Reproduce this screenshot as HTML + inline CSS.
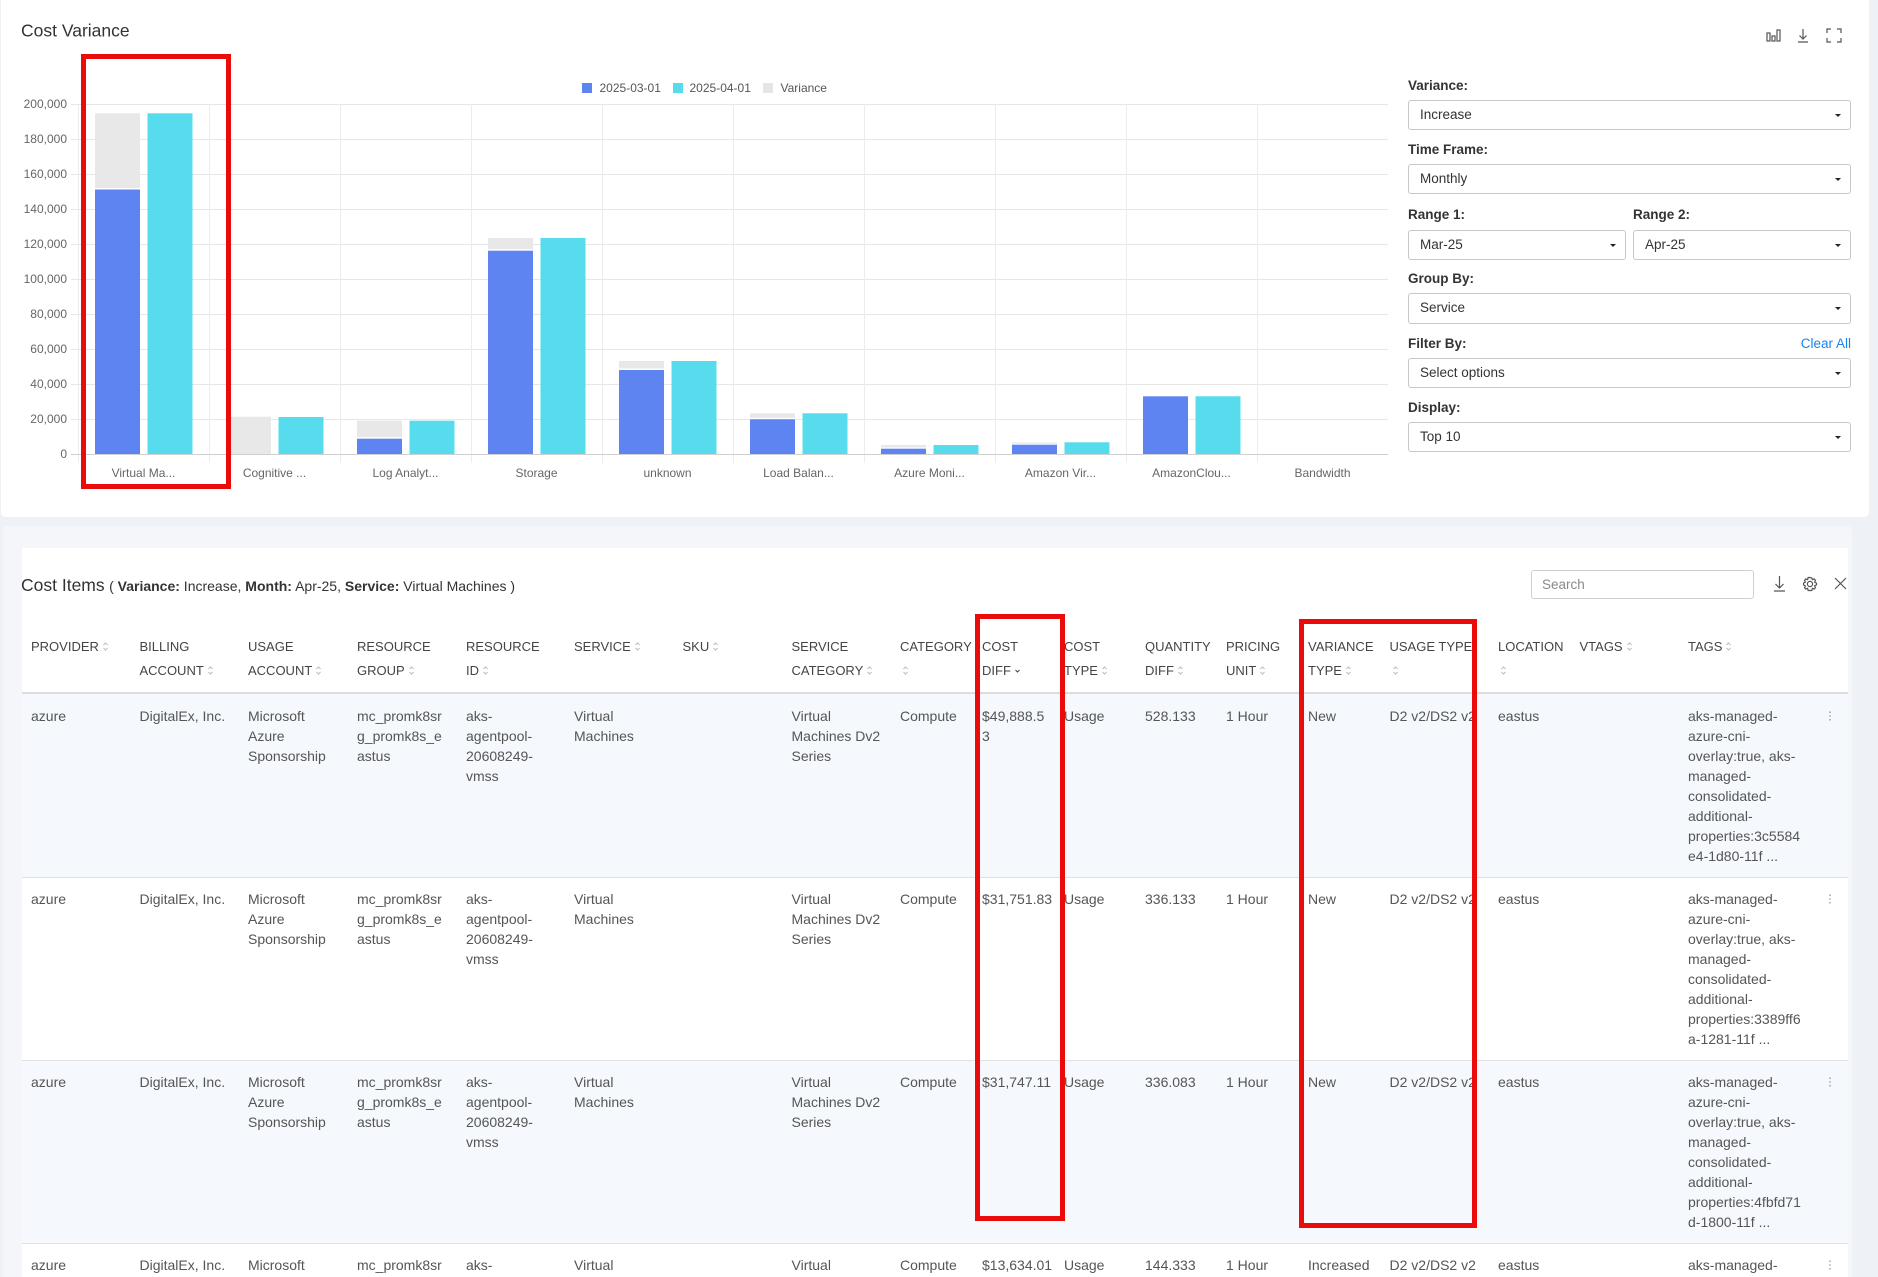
<!DOCTYPE html>
<html><head><meta charset="utf-8">
<style>
*{margin:0;padding:0;box-sizing:border-box}
html,body{width:1878px;height:1277px;overflow:hidden;background:#eef1f5;font-family:"Liberation Sans",Arial,sans-serif;position:relative}
.a{position:absolute;white-space:nowrap}
.lbl{position:absolute;font-size:13.5px;font-weight:bold;color:#333;line-height:16px;white-space:nowrap}
.sel{position:absolute;border:1px solid #c8c8c8;border-radius:3px;background:#fff;font-size:13.5px;color:#333;padding-left:11px;line-height:28px;height:30px}
.sel::after{content:"";position:absolute;right:9px;top:13px;border-left:3px solid transparent;border-right:3px solid transparent;border-top:3px solid #222}
.h{position:absolute;font-size:13px;color:#444;line-height:24px;white-space:nowrap;top:635px}
.c{position:absolute;font-size:14px;color:#555;line-height:20px;white-space:nowrap}
.row{position:absolute;left:22px;width:1826px;height:183px;border-bottom:1px solid #dde1e6}
.red{position:absolute;border:5px solid #ec0b0b;z-index:10}
.s{display:inline-block;width:7px;height:11px;vertical-align:-1px;margin-left:3px}
.kb{position:absolute;width:4px;height:10px}
</style></head>
<body>

<!-- top card -->
<div style="position:absolute;left:1px;top:0;width:1868px;height:517px;background:#fff;border-radius:0 0 5px 5px"></div>

<svg class="a" style="left:0;top:0" width="1878" height="520" xmlns="http://www.w3.org/2000/svg" font-family="Liberation Sans, Arial, sans-serif">
  <text x="21" y="36.5" font-size="17.5" fill="#333">Cost Variance</text>
  <g stroke="#555" stroke-width="1.2" fill="none">
    <rect x="1767" y="33" width="3" height="8"/>
    <rect x="1772" y="36" width="3" height="5"/>
    <rect x="1777" y="30" width="3" height="11"/>
    <path d="M1803 29 V39 M1799.5 35.5 L1803 39 L1806.5 35.5 M1798 42 H1808"/>
    <path d="M1827 33 V29 H1831 M1837 29 H1841 V33 M1841 38 V42 H1837 M1831 42 H1827 V38"/>
  </g>
  <rect x="582" y="83" width="10" height="10" fill="#5d84f1"/>
  <text x="599.5" y="92" font-size="12" fill="#555">2025-03-01</text>
  <rect x="673" y="83" width="10" height="10" fill="#56dced"/>
  <text x="689.5" y="92" font-size="12" fill="#555">2025-04-01</text>
  <rect x="763" y="83" width="10" height="10" fill="#e6e6e6"/>
  <text x="780.5" y="92" font-size="12" fill="#555">Variance</text>
  <g stroke="#e6e6e6" stroke-width="1">
    <line x1="71" y1="104.5" x2="1388" y2="104.5"/>
    <line x1="71" y1="139.5" x2="1388" y2="139.5"/>
    <line x1="71" y1="174.5" x2="1388" y2="174.5"/>
    <line x1="71" y1="209.5" x2="1388" y2="209.5"/>
    <line x1="71" y1="244.5" x2="1388" y2="244.5"/>
    <line x1="71" y1="279.5" x2="1388" y2="279.5"/>
    <line x1="71" y1="314.5" x2="1388" y2="314.5"/>
    <line x1="71" y1="349.5" x2="1388" y2="349.5"/>
    <line x1="71" y1="384.5" x2="1388" y2="384.5"/>
    <line x1="71" y1="419.5" x2="1388" y2="419.5"/>
  </g>
  <g stroke="#ececec" stroke-width="1">
    <line x1="78.5" y1="104" x2="78.5" y2="463"/>
    <line x1="209.5" y1="104" x2="209.5" y2="463"/>
    <line x1="340.5" y1="104" x2="340.5" y2="463"/>
    <line x1="471.5" y1="104" x2="471.5" y2="463"/>
    <line x1="602.5" y1="104" x2="602.5" y2="463"/>
    <line x1="733.5" y1="104" x2="733.5" y2="463"/>
    <line x1="864.5" y1="104" x2="864.5" y2="463"/>
    <line x1="995.5" y1="104" x2="995.5" y2="463"/>
    <line x1="1126.5" y1="104" x2="1126.5" y2="463"/>
    <line x1="1257.5" y1="104" x2="1257.5" y2="463"/>
  </g>
  <g font-size="12" fill="#666" text-anchor="end">
    <text x="67" y="108">200,000</text>
    <text x="67" y="143">180,000</text>
    <text x="67" y="178">160,000</text>
    <text x="67" y="213">140,000</text>
    <text x="67" y="248">120,000</text>
    <text x="67" y="283">100,000</text>
    <text x="67" y="318">80,000</text>
    <text x="67" y="353">60,000</text>
    <text x="67" y="388">40,000</text>
    <text x="67" y="423">20,000</text>
    <text x="67" y="458">0</text>
  </g>
  <g>
    <rect x="95" y="113.3" width="45" height="74.7" fill="#e8e8e8"/>
    <rect x="95" y="189.5" width="45" height="264.5" fill="#5d84f1"/>
    <rect x="147.5" y="113.3" width="45" height="340.7" fill="#56dced"/>

    <rect x="226" y="416.7" width="45" height="37.3" fill="#e8e8e8"/>
    <rect x="278.5" y="417" width="45" height="37" fill="#56dced"/>

    <rect x="357" y="420.7" width="45" height="16.5" fill="#e8e8e8"/>
    <rect x="357" y="438.7" width="45" height="15.3" fill="#5d84f1"/>
    <rect x="409.5" y="420.7" width="45" height="33.3" fill="#56dced"/>

    <rect x="488" y="238" width="45" height="11.2" fill="#e8e8e8"/>
    <rect x="488" y="250.7" width="45" height="203.3" fill="#5d84f1"/>
    <rect x="540.5" y="238" width="45" height="216" fill="#56dced"/>

    <rect x="619" y="361" width="45" height="7.5" fill="#e8e8e8"/>
    <rect x="619" y="370" width="45" height="84" fill="#5d84f1"/>
    <rect x="671.5" y="361" width="45" height="93" fill="#56dced"/>

    <rect x="750" y="413.3" width="45" height="4.5" fill="#e8e8e8"/>
    <rect x="750" y="419.3" width="45" height="34.7" fill="#5d84f1"/>
    <rect x="802.5" y="413.3" width="45" height="40.7" fill="#56dced"/>

    <rect x="881" y="445" width="45" height="2.5" fill="#e8e8e8"/>
    <rect x="881" y="448.7" width="45" height="5.3" fill="#5d84f1"/>
    <rect x="933.5" y="445" width="45" height="9" fill="#56dced"/>

    <rect x="1012" y="442.3" width="45" height="1.4" fill="#e8e8e8"/>
    <rect x="1012" y="444.7" width="45" height="9.3" fill="#5d84f1"/>
    <rect x="1064.5" y="442.3" width="45" height="11.7" fill="#56dced"/>

    <rect x="1143" y="396.3" width="45" height="57.7" fill="#5d84f1"/>
    <rect x="1195.5" y="396.3" width="45" height="57.7" fill="#56dced"/>
  </g>
  <line x1="71" y1="454.5" x2="1388" y2="454.5" stroke="#cfcfcf" stroke-width="1"/>
  <g font-size="12" fill="#666" text-anchor="middle">
    <text x="143.5" y="477">Virtual Ma...</text>
    <text x="274.5" y="477">Cognitive ...</text>
    <text x="405.5" y="477">Log Analyt...</text>
    <text x="536.5" y="477">Storage</text>
    <text x="667.5" y="477">unknown</text>
    <text x="798.5" y="477">Load Balan...</text>
    <text x="929.5" y="477">Azure Moni...</text>
    <text x="1060.5" y="477">Amazon Vir...</text>
    <text x="1191.5" y="477">AmazonClou...</text>
    <text x="1322.5" y="477">Bandwidth</text>
  </g>
</svg>

<!-- right panel -->
<div class="lbl" style="left:1408px;top:78px">Variance:</div>
<div class="sel" style="left:1408px;top:100px;width:443px">Increase</div>
<div class="lbl" style="left:1408px;top:142px">Time Frame:</div>
<div class="sel" style="left:1408px;top:164px;width:443px">Monthly</div>
<div class="lbl" style="left:1408px;top:207px">Range 1:</div>
<div class="lbl" style="left:1633px;top:207px">Range 2:</div>
<div class="sel" style="left:1408px;top:230px;width:218px">Mar-25</div>
<div class="sel" style="left:1633px;top:230px;width:218px">Apr-25</div>
<div class="lbl" style="left:1408px;top:271px">Group By:</div>
<div class="sel" style="left:1408px;top:293px;width:443px;height:31px">Service</div>
<div class="lbl" style="left:1408px;top:336px">Filter By:</div>
<div class="a" style="right:27px;top:336px;font-size:13.5px;color:#1a85f0;line-height:16px">Clear All</div>
<div class="sel" style="left:1408px;top:358px;width:443px">Select options</div>
<div class="lbl" style="left:1408px;top:400px">Display:</div>
<div class="sel" style="left:1408px;top:422px;width:443px">Top 10</div>

<!-- bottom panel -->
<div style="position:absolute;left:3px;top:526px;width:1849px;height:751px;background:#f4f6f9;border-radius:4px 4px 0 0"></div>
<div style="position:absolute;left:22px;top:548px;width:1826px;height:729px;background:#fff"></div>

<div class="a" style="left:21px;top:573px;line-height:24px;color:#333"><span style="font-size:17.5px">Cost Items</span> <span style="font-size:14px">( <b>Variance:</b> Increase, <b>Month:</b> Apr-25, <b>Service:</b> Virtual Machines )</span></div>

<div class="a" style="left:1531px;top:570px;width:223px;height:29px;border:1px solid #cfcfcf;border-radius:3px;background:#fff;font-size:13.5px;color:#8a8a8a;padding-left:10px;line-height:27px">Search</div>
<svg class="a" style="left:1770px;top:574px" width="80" height="20" xmlns="http://www.w3.org/2000/svg">
  <g stroke="#555" stroke-width="1.2" fill="none">
    <path d="M9.5 2 V14 M5.5 10 L9.5 14 L13.5 10 M4 17 H15"/>
    <circle cx="40" cy="10" r="2.6"/>
    <path d="M40 3.5 L41.8 4 L42.4 5.6 L44.3 5 L45.5 6.5 L44.6 8 L46.5 9.2 L46.5 10.8 L44.6 12 L45.5 13.5 L44.3 15 L42.4 14.4 L41.8 16.5 L38.2 16.5 L37.6 14.4 L35.7 15 L34.5 13.5 L35.4 12 L33.5 10.8 L33.5 9.2 L35.4 8 L34.5 6.5 L35.7 5 L37.6 5.6 L38.2 3.5 Z"/>
    <path d="M65 4 L76 15 M76 4 L65 15"/>
  </g>
</svg>

<!-- header -->
<div class="h" style="left:31px">PROVIDER<svg class="s" viewBox="0 0 7 11"><path d="M1.5 4 L3.5 2 L5.5 4 M1.5 7 L3.5 9 L5.5 7" stroke="#bbb" fill="none"/></svg></div>
<div class="h" style="left:139.5px">BILLING<br>ACCOUNT<svg class="s" viewBox="0 0 7 11"><path d="M1.5 4 L3.5 2 L5.5 4 M1.5 7 L3.5 9 L5.5 7" stroke="#bbb" fill="none"/></svg></div>
<div class="h" style="left:248px">USAGE<br>ACCOUNT<svg class="s" viewBox="0 0 7 11"><path d="M1.5 4 L3.5 2 L5.5 4 M1.5 7 L3.5 9 L5.5 7" stroke="#bbb" fill="none"/></svg></div>
<div class="h" style="left:357px">RESOURCE<br>GROUP<svg class="s" viewBox="0 0 7 11"><path d="M1.5 4 L3.5 2 L5.5 4 M1.5 7 L3.5 9 L5.5 7" stroke="#bbb" fill="none"/></svg></div>
<div class="h" style="left:466px">RESOURCE<br>ID<svg class="s" viewBox="0 0 7 11"><path d="M1.5 4 L3.5 2 L5.5 4 M1.5 7 L3.5 9 L5.5 7" stroke="#bbb" fill="none"/></svg></div>
<div class="h" style="left:574px">SERVICE<svg class="s" viewBox="0 0 7 11"><path d="M1.5 4 L3.5 2 L5.5 4 M1.5 7 L3.5 9 L5.5 7" stroke="#bbb" fill="none"/></svg></div>
<div class="h" style="left:682.5px">SKU<svg class="s" viewBox="0 0 7 11"><path d="M1.5 4 L3.5 2 L5.5 4 M1.5 7 L3.5 9 L5.5 7" stroke="#bbb" fill="none"/></svg></div>
<div class="h" style="left:791.5px">SERVICE<br>CATEGORY<svg class="s" viewBox="0 0 7 11"><path d="M1.5 4 L3.5 2 L5.5 4 M1.5 7 L3.5 9 L5.5 7" stroke="#bbb" fill="none"/></svg></div>
<div class="h" style="left:900px">CATEGORY<br><svg class="s" style="margin-left:2px" viewBox="0 0 7 11"><path d="M1.5 4 L3.5 2 L5.5 4 M1.5 7 L3.5 9 L5.5 7" stroke="#bbb" fill="none"/></svg></div>
<div class="h" style="left:982px">COST<br>DIFF<svg class="s" viewBox="0 0 7 11"><path d="M1.5 5 L3.5 7 L5.5 5" stroke="#444" fill="none"/></svg></div>
<div class="h" style="left:1064px">COST<br>TYPE<svg class="s" viewBox="0 0 7 11"><path d="M1.5 4 L3.5 2 L5.5 4 M1.5 7 L3.5 9 L5.5 7" stroke="#bbb" fill="none"/></svg></div>
<div class="h" style="left:1145px">QUANTITY<br>DIFF<svg class="s" viewBox="0 0 7 11"><path d="M1.5 4 L3.5 2 L5.5 4 M1.5 7 L3.5 9 L5.5 7" stroke="#bbb" fill="none"/></svg></div>
<div class="h" style="left:1226px">PRICING<br>UNIT<svg class="s" viewBox="0 0 7 11"><path d="M1.5 4 L3.5 2 L5.5 4 M1.5 7 L3.5 9 L5.5 7" stroke="#bbb" fill="none"/></svg></div>
<div class="h" style="left:1308px">VARIANCE<br>TYPE<svg class="s" viewBox="0 0 7 11"><path d="M1.5 4 L3.5 2 L5.5 4 M1.5 7 L3.5 9 L5.5 7" stroke="#bbb" fill="none"/></svg></div>
<div class="h" style="left:1389.5px">USAGE TYPE<br><svg class="s" style="margin-left:2px" viewBox="0 0 7 11"><path d="M1.5 4 L3.5 2 L5.5 4 M1.5 7 L3.5 9 L5.5 7" stroke="#bbb" fill="none"/></svg></div>
<div class="h" style="left:1498px">LOCATION<br><svg class="s" style="margin-left:2px" viewBox="0 0 7 11"><path d="M1.5 4 L3.5 2 L5.5 4 M1.5 7 L3.5 9 L5.5 7" stroke="#bbb" fill="none"/></svg></div>
<div class="h" style="left:1579.5px">VTAGS<svg class="s" viewBox="0 0 7 11"><path d="M1.5 4 L3.5 2 L5.5 4 M1.5 7 L3.5 9 L5.5 7" stroke="#bbb" fill="none"/></svg></div>
<div class="h" style="left:1688px">TAGS<svg class="s" viewBox="0 0 7 11"><path d="M1.5 4 L3.5 2 L5.5 4 M1.5 7 L3.5 9 L5.5 7" stroke="#bbb" fill="none"/></svg></div>

<div style="position:absolute;left:22px;top:692px;width:1826px;height:2px;background:#dcdcdc"></div>

<!-- rows -->
<div class="row" style="top:694px;height:184px;background:#f5f8fd"></div>
<div class="row" style="top:878px;background:#fff"></div>
<div class="row" style="top:1061px;background:#f5f8fd"></div>
<div class="row" style="top:1244px;height:33px;background:#fff;border-bottom:none"></div>

<!-- row 1 -->
<div class="c" style="left:31px;top:705.7px">azure</div>
<div class="c" style="left:139.5px;top:705.7px">DigitalEx, Inc.</div>
<div class="c" style="left:248px;top:705.7px">Microsoft<br>Azure<br>Sponsorship</div>
<div class="c" style="left:357px;top:705.7px">mc_promk8sr<br>g_promk8s_e<br>astus</div>
<div class="c" style="left:466px;top:705.7px">aks-<br>agentpool-<br>20608249-<br>vmss</div>
<div class="c" style="left:574px;top:705.7px">Virtual<br>Machines</div>
<div class="c" style="left:791.5px;top:705.7px">Virtual<br>Machines Dv2<br>Series</div>
<div class="c" style="left:900px;top:705.7px">Compute</div>
<div class="c" style="left:982px;top:705.7px">$49,888.5<br>3</div>
<div class="c" style="left:1064px;top:705.7px">Usage</div>
<div class="c" style="left:1145px;top:705.7px">528.133</div>
<div class="c" style="left:1226px;top:705.7px">1 Hour</div>
<div class="c" style="left:1308px;top:705.7px">New</div>
<div class="c" style="left:1389.5px;top:705.7px">D2 v2/DS2 v2</div>
<div class="c" style="left:1498px;top:705.7px">eastus</div>
<div class="c" style="left:1688px;top:705.7px">aks-managed-<br>azure-cni-<br>overlay:true, aks-<br>managed-<br>consolidated-<br>additional-<br>properties:3c5584<br>e4-1d80-11f ...</div>
<svg class="kb" style="left:1828px;top:711px" viewBox="0 0 4 10"><circle cx="2" cy="1.2" r="0.9" fill="#aaa"/><circle cx="2" cy="5" r="0.9" fill="#aaa"/><circle cx="2" cy="8.8" r="0.9" fill="#aaa"/></svg>

<!-- row 2 -->
<div class="c" style="left:31px;top:888.7px">azure</div>
<div class="c" style="left:139.5px;top:888.7px">DigitalEx, Inc.</div>
<div class="c" style="left:248px;top:888.7px">Microsoft<br>Azure<br>Sponsorship</div>
<div class="c" style="left:357px;top:888.7px">mc_promk8sr<br>g_promk8s_e<br>astus</div>
<div class="c" style="left:466px;top:888.7px">aks-<br>agentpool-<br>20608249-<br>vmss</div>
<div class="c" style="left:574px;top:888.7px">Virtual<br>Machines</div>
<div class="c" style="left:791.5px;top:888.7px">Virtual<br>Machines Dv2<br>Series</div>
<div class="c" style="left:900px;top:888.7px">Compute</div>
<div class="c" style="left:982px;top:888.7px">$31,751.83</div>
<div class="c" style="left:1064px;top:888.7px">Usage</div>
<div class="c" style="left:1145px;top:888.7px">336.133</div>
<div class="c" style="left:1226px;top:888.7px">1 Hour</div>
<div class="c" style="left:1308px;top:888.7px">New</div>
<div class="c" style="left:1389.5px;top:888.7px">D2 v2/DS2 v2</div>
<div class="c" style="left:1498px;top:888.7px">eastus</div>
<div class="c" style="left:1688px;top:888.7px">aks-managed-<br>azure-cni-<br>overlay:true, aks-<br>managed-<br>consolidated-<br>additional-<br>properties:3389ff6<br>a-1281-11f ...</div>
<svg class="kb" style="left:1828px;top:894px" viewBox="0 0 4 10"><circle cx="2" cy="1.2" r="0.9" fill="#aaa"/><circle cx="2" cy="5" r="0.9" fill="#aaa"/><circle cx="2" cy="8.8" r="0.9" fill="#aaa"/></svg>

<!-- row 3 -->
<div class="c" style="left:31px;top:1071.7px">azure</div>
<div class="c" style="left:139.5px;top:1071.7px">DigitalEx, Inc.</div>
<div class="c" style="left:248px;top:1071.7px">Microsoft<br>Azure<br>Sponsorship</div>
<div class="c" style="left:357px;top:1071.7px">mc_promk8sr<br>g_promk8s_e<br>astus</div>
<div class="c" style="left:466px;top:1071.7px">aks-<br>agentpool-<br>20608249-<br>vmss</div>
<div class="c" style="left:574px;top:1071.7px">Virtual<br>Machines</div>
<div class="c" style="left:791.5px;top:1071.7px">Virtual<br>Machines Dv2<br>Series</div>
<div class="c" style="left:900px;top:1071.7px">Compute</div>
<div class="c" style="left:982px;top:1071.7px">$31,747.11</div>
<div class="c" style="left:1064px;top:1071.7px">Usage</div>
<div class="c" style="left:1145px;top:1071.7px">336.083</div>
<div class="c" style="left:1226px;top:1071.7px">1 Hour</div>
<div class="c" style="left:1308px;top:1071.7px">New</div>
<div class="c" style="left:1389.5px;top:1071.7px">D2 v2/DS2 v2</div>
<div class="c" style="left:1498px;top:1071.7px">eastus</div>
<div class="c" style="left:1688px;top:1071.7px">aks-managed-<br>azure-cni-<br>overlay:true, aks-<br>managed-<br>consolidated-<br>additional-<br>properties:4fbfd71<br>d-1800-11f ...</div>
<svg class="kb" style="left:1828px;top:1077px" viewBox="0 0 4 10"><circle cx="2" cy="1.2" r="0.9" fill="#aaa"/><circle cx="2" cy="5" r="0.9" fill="#aaa"/><circle cx="2" cy="8.8" r="0.9" fill="#aaa"/></svg>

<!-- row 4 (only first line visible) -->
<div class="c" style="left:31px;top:1254.7px">azure</div>
<div class="c" style="left:139.5px;top:1254.7px">DigitalEx, Inc.</div>
<div class="c" style="left:248px;top:1254.7px">Microsoft</div>
<div class="c" style="left:357px;top:1254.7px">mc_promk8sr</div>
<div class="c" style="left:466px;top:1254.7px">aks-</div>
<div class="c" style="left:574px;top:1254.7px">Virtual</div>
<div class="c" style="left:791.5px;top:1254.7px">Virtual</div>
<div class="c" style="left:900px;top:1254.7px">Compute</div>
<div class="c" style="left:982px;top:1254.7px">$13,634.01</div>
<div class="c" style="left:1064px;top:1254.7px">Usage</div>
<div class="c" style="left:1145px;top:1254.7px">144.333</div>
<div class="c" style="left:1226px;top:1254.7px">1 Hour</div>
<div class="c" style="left:1308px;top:1254.7px">Increased</div>
<div class="c" style="left:1389.5px;top:1254.7px">D2 v2/DS2 v2</div>
<div class="c" style="left:1498px;top:1254.7px">eastus</div>
<div class="c" style="left:1688px;top:1254.7px">aks-managed-</div>
<svg class="kb" style="left:1828px;top:1260px" viewBox="0 0 4 10"><circle cx="2" cy="1.2" r="0.9" fill="#aaa"/><circle cx="2" cy="5" r="0.9" fill="#aaa"/><circle cx="2" cy="8.8" r="0.9" fill="#aaa"/></svg>

<!-- red annotation boxes -->
<div class="red" style="left:81px;top:54px;width:150px;height:435px"></div>
<div class="red" style="left:975px;top:614px;width:90px;height:607px"></div>
<div class="red" style="left:1299px;top:619px;width:178px;height:609px"></div>

</body></html>
